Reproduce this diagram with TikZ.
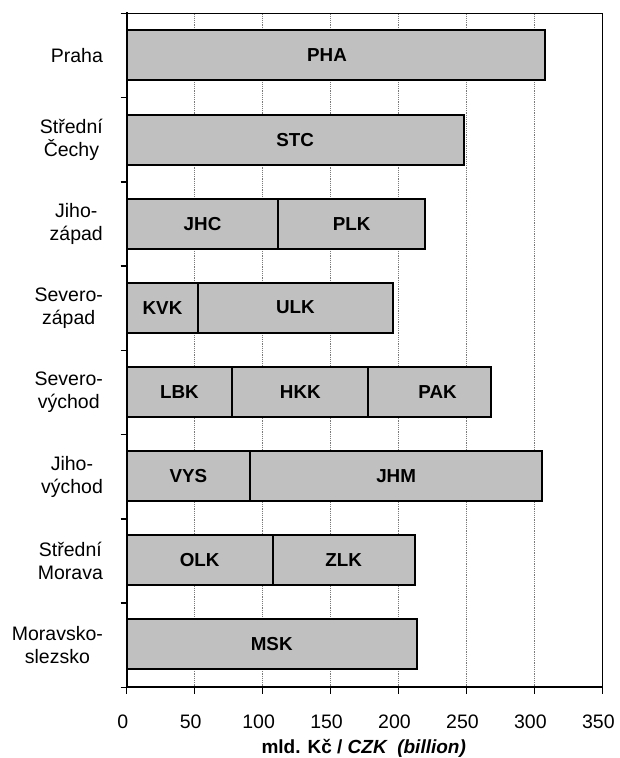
\documentclass[tikz,border=0pt]{standalone}
\usepackage{fontspec}
\setmainfont{Liberation Sans}
\definecolor{barfill}{HTML}{C0C0C0}
\definecolor{gridc}{HTML}{7A7A7A}
\tikzset{
  barbox/.style={draw=black, line width=1.9pt, fill=barfill},
  barlbl/.style={font=\fontsize{18.8}{22}\selectfont\bfseries, inner sep=0pt},
  catlbl/.style={font=\fontsize{19.5}{22.8}\selectfont, align=center, anchor=east, inner sep=0pt},
  ticklbl/.style={font=\fontsize{19.5}{22}\selectfont, inner sep=0pt},
  gridln/.style={draw=gridc, line width=1.2pt, dash pattern=on 1.2pt off 1pt},
  frameln/.style={draw=black, line width=1.5pt},
  axisln/.style={draw=black, line width=2.2pt},
}
\newcommand\seg[5]{%
  \draw[barbox] (#1,#3-25) rectangle (#2,#3+25);
  \node[barlbl] (#5) at ({(#1+#2)/2},#3) {#4};}
\newcommand\segat[6]{%
  \draw[barbox] (#1,#3-25) rectangle (#2,#3+25);
  \node[barlbl] (#5) at (#6,#3) {#4};}
\begin{document}
\begin{tikzpicture}[x=1.359pt, y=-1pt]
\useasboundingbox[fill=white] (-126.7pt,0pt) rectangle (492.3pt,-758pt);
% grid
\foreach \v in {50,100,...,300} \draw[gridln] (\v,13.3) -- (\v,687.3);
% bars
\segat{0}{307.6}{55.4}{PHA}{pha}{147.4}
\seg{0}{248}{139.7}{STC}{stc}
\seg{0}{111.6}{223.9}{JHC}{jhc}
\seg{111.6}{219.5}{223.9}{PLK}{plk}
\seg{0}{52.7}{307.6}{KVK}{kvk}
\seg{52.7}{195.7}{307.6}{ULK}{ulk}
\seg{0}{77.7}{392.3}{LBK}{lbk}
\seg{77.7}{177.8}{392.3}{HKK}{hkk}
\segat{177.8}{267.8}{392.3}{PAK}{pak}{228.7}
\seg{0}{90.7}{476.2}{VYS}{vys}
\seg{90.7}{305.8}{476.2}{JHM}{jhm}
\seg{0}{107.4}{560.3}{OLK}{olk}
\seg{107.4}{212}{560.3}{ZLK}{zlk}
\seg{0}{213.4}{644.4}{MSK}{msk}
% frame
\draw[frameln] (0,13.3) -- (350,13.3) -- (350,687.3);
\draw[axisln] (0,12.3) -- (0,687.3) -- (350,687.3);
% ticks
\foreach \k in {0,...,8} \draw[frameln] (-4.4,{13.3+84.25*\k}) -- (0,{13.3+84.25*\k});
\foreach \v in {0,50,...,350} {
  \draw[frameln] (\v,687.3) -- (\v,693.5);
  \node[ticklbl, xshift=-4pt] (t\v) at (\v,721.3) {\v};
}
% category labels
\node[catlbl] (c1) at (-17.4,55.4) {Praha};
\node[catlbl] (c2) at (-17.4,139.7) {Střední\\Čechy};
\node[catlbl] (c3) at (-17.4,223.9) {Jiho-\\západ};
\node[catlbl] (c4) at (-17.4,308.2) {Severo-\\západ};
\node[catlbl] (c5) at (-17.4,392.4) {Severo-\\východ};
\node[catlbl] (c6) at (-17.4,476.7) {Jiho-\\východ};
\node[catlbl] (c7) at (-17.4,560.9) {Střední\\Morava};
\node[catlbl] (c8) at (-17.4,645.2) {Moravsko-\\slezsko};
% axis title
\node[font=\fontsize{19}{22}\selectfont\bfseries, inner sep=0pt] (xt) at (174.4,748.5) {mld. Kč / \textit{CZK \ (billion)}};
\end{tikzpicture}
\end{document}
